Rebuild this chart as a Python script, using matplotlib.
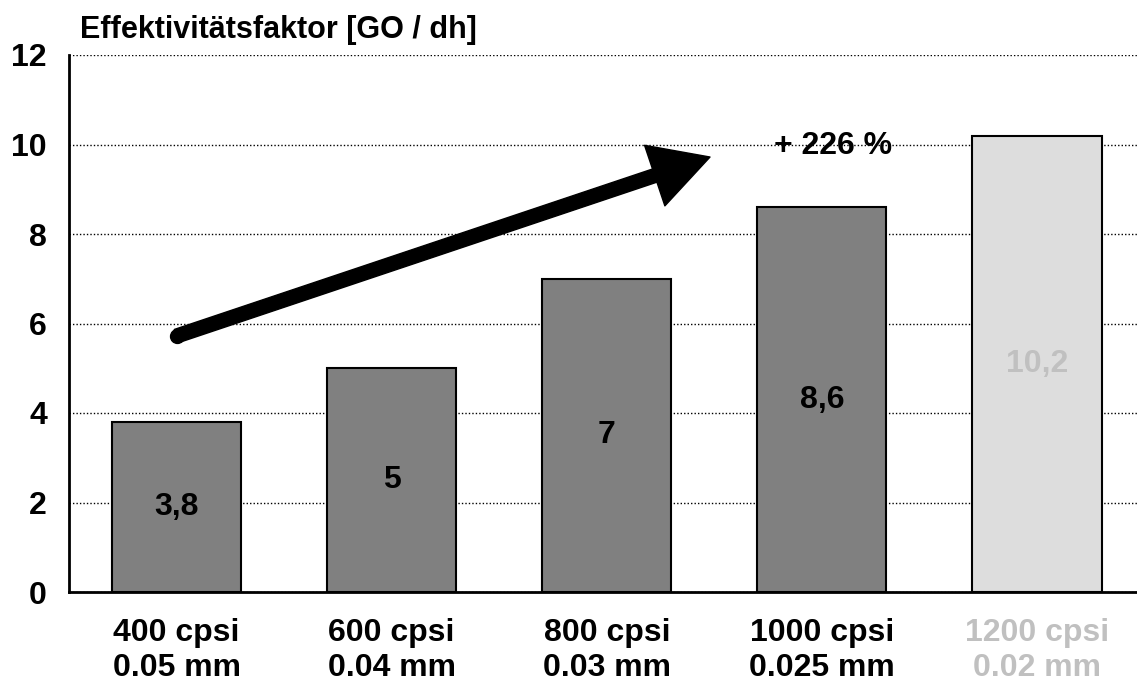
import matplotlib
matplotlib.use('Agg')
import matplotlib.pyplot as plt

# cell density / wall thickness vs. effectiveness factor
cells = ["400 cpsi", "600 cpsi", "800 cpsi", "1000 cpsi", "1200 cpsi"]
walls = ["0.05 mm", "0.04 mm", "0.03 mm", "0.025 mm", "0.02 mm"]
values = [3.8, 5.0, 7.0, 8.6, 10.2]
value_text = ["3,8", "5", "7", "8,6", "10,2"]
projected = [False, False, False, False, True]

trend_start = (0.0, 5.72)
trend_end = (2.48, 9.72)
trend_text = "+ 226 %"

plt.rcParams['font.family'] = ['Liberation Sans', 'DejaVu Sans']
plt.rcParams['font.weight'] = 'bold'

fig = plt.figure(figsize=(11.37, 6.82), dpi=100)
ax = fig.add_axes([69 / 1137, 1 - 592 / 682, 1 - 69 / 1137, (592 - 55) / 682])

x = list(range(len(values)))
fills = ['#dddddd' if p else '#808080' for p in projected]
txt_colors = ['#c0c0c0' if p else 'black' for p in projected]

ax.bar(x, values, width=0.6, color=fills, edgecolor='black', linewidth=1.5, zorder=3)
for xi, v, t, c in zip(x, values, value_text, txt_colors):
    ax.text(xi, v / 2, t, ha='center', va='center', fontsize=23, fontweight='bold', color=c, zorder=4)

ax.set_ylim(0, 12)
ax.set_xlim(-0.5, 4.465)
ax.set_yticks([0, 2, 4, 6, 8, 10, 12])
ax.yaxis.grid(True, linestyle=(0, (1, 1.5)), color='black', linewidth=1.0, zorder=0)
ax.set_axisbelow(True)

ax.set_xticks(x)
ax.set_xticklabels([c + "\n" + w for c, w in zip(cells, walls)], linespacing=1.22)
for lbl, c in zip(ax.get_xticklabels(), txt_colors):
    lbl.set_color(c)
ax.tick_params(axis='x', length=0, pad=19, labelsize=23)
ax.tick_params(axis='y', length=0, pad=16, labelsize=23)

ax.spines['top'].set_visible(False)
ax.spines['right'].set_visible(False)
ax.spines['left'].set_linewidth(2)
ax.spines['bottom'].set_linewidth(2)

# trend arrow with a rounded tail
ax.annotate('', xy=trend_end, xytext=trend_start,
            arrowprops=dict(arrowstyle='simple,head_length=2.1,head_width=2.3,tail_width=0.5',
                            mutation_scale=20, color='black', shrinkA=0, shrinkB=0),
            zorder=5)
ax.plot(*trend_start, 'o', ms=10, color='black', zorder=5)
ax.text(3.05, 9.97, trend_text, ha='center', va='center', fontsize=23, fontweight='bold', zorder=5)

fig.text(80 / 1137, 1 - 38 / 682, "Effektivitätsfaktor [GO / dh]", ha='left', va='baseline',
         fontsize=22, fontweight='bold')

fig.savefig('out.png', dpi=100)
